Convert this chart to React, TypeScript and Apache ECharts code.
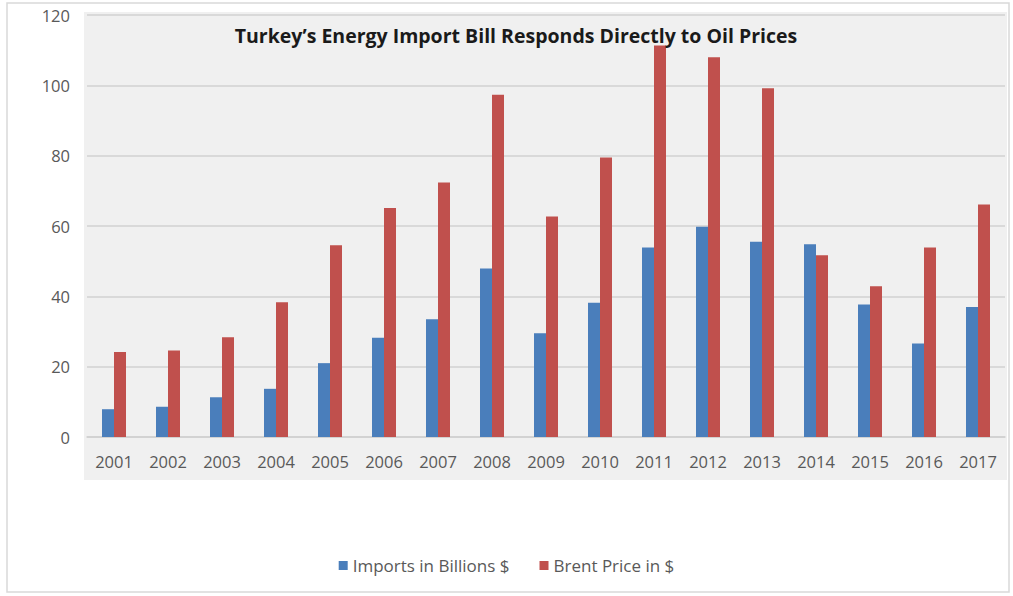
import React, { useEffect, useRef } from "react";
import * as echarts from "echarts";

const years = ["2001","2002","2003","2004","2005","2006","2007","2008","2009","2010","2011","2012","2013","2014","2015","2016","2017"];
const imports = [7.9, 8.6, 11.3, 13.7, 21.0, 28.2, 33.5, 47.9, 29.5, 38.2, 53.9, 59.8, 55.5, 54.8, 37.7, 26.6, 37.0];
const brent = [24.2, 24.6, 28.4, 38.3, 54.5, 65.1, 72.4, 97.3, 62.7, 79.5, 111.3, 108.0, 99.2, 51.7, 42.9, 53.9, 66.1];
const seriesNames = ["Imports in Billions $", "Brent Price in $"];
const title = "Turkey\u2019s Energy Import Bill Responds Directly to Oil Prices";

export default function App() {
  const ref = useRef<HTMLDivElement>(null);
  useEffect(() => {
    const chart = echarts.init(ref.current!, null, { renderer: "svg" });
    const font = "'Open Sans', sans-serif";
    chart.setOption({
      animation: false,
      backgroundColor: "#ffffff",
      title: {
        text: title,
        left: 511,
        top: 20,
        textAlign: "center",
        textStyle: { fontFamily: font, fontWeight: "bold", fontSize: 19.5, color: "#1a1a1a" },
      },
      legend: {
        data: seriesNames,
        bottom: 17,
        left: "center",
        itemWidth: 9,
        itemHeight: 9,
        itemGap: 30,
        icon: "rect",
        textStyle: { fontFamily: font, fontSize: 17, color: "#595959" },
      },
      graphic: [
        { type: "rect", z: -10, shape: { x: 7, y: 3, width: 1002, height: 589 }, style: { fill: "#ffffff", stroke: "#d9d9d9", lineWidth: 1.5 } },
        { type: "rect", z: -9, shape: { x: 84, y: 12, width: 923, height: 468 }, style: { fill: "#f0f0f0" } },
      ],
      grid: { left: 87, right: 8, top: 15, bottom: 159 },
      xAxis: {
        type: "category",
        data: years,
        axisLine: { lineStyle: { color: "#cfcfcf", width: 1.5 } },
        axisTick: { show: false },
        axisLabel: { fontFamily: font, fontSize: 16.5, color: "#595959", margin: 16 },
      },
      yAxis: {
        type: "value",
        min: 0,
        max: 120,
        interval: 20,
        axisLine: { show: false },
        axisTick: { show: false },
        splitLine: { lineStyle: { color: "#d2d2d2", width: 1.5 } },
        axisLabel: { fontFamily: font, fontSize: 16.5, color: "#595959", margin: 17 },
      },
      series: [
        { name: seriesNames[0], type: "bar", data: imports, barWidth: 12, barGap: "0%", itemStyle: { color: "#4a7ebb" } },
        { name: seriesNames[1], type: "bar", data: brent, barWidth: 12, barGap: "0%", itemStyle: { color: "#c0504d" } },
      ],
    });
    return () => chart.dispose();
  }, []);
  return <div ref={ref} style={{ position: "absolute", left: 0, top: 0, width: 1013, height: 596 }} />;
}
